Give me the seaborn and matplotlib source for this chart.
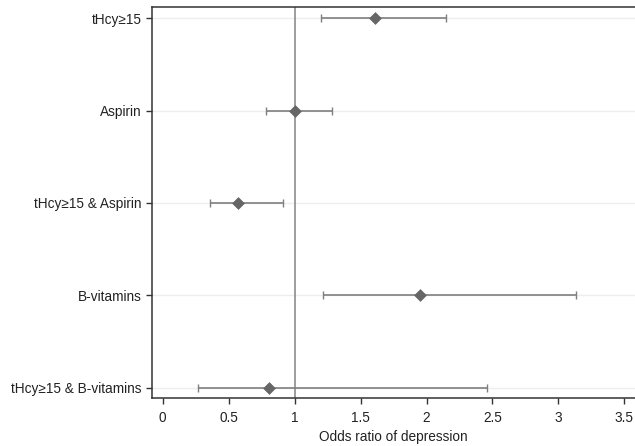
import numpy as np
import pandas as pd
import matplotlib
matplotlib.use("Agg")
import matplotlib.pyplot as plt
import seaborn as sns

# --- Data ---
labels = ["tHcy≥15", "Aspirin", "tHcy≥15 & Aspirin", "B-vitamins", "tHcy≥15 & B-vitamins"]
odds_ratio = [1.61, 1.00, 0.57, 1.95, 0.81]
ci_low = [1.20, 0.78, 0.36, 1.215, 0.265]
ci_high = [2.15, 1.285, 0.91, 3.135, 2.46]
x_ticks = [0, 0.5, 1, 1.5, 2, 2.5, 3, 3.5]
x_tick_labels = ["0", "0.5", "1", "1.5", "2", "2.5", "3", "3.5"]

df = pd.DataFrame({"label": labels, "or": odds_ratio, "lo": ci_low, "hi": ci_high})

sns.set_theme(style="white")
plt.rcParams["font.family"] = ["Liberation Sans", "DejaVu Sans"]

fig = plt.figure(figsize=(6.35, 4.46), dpi=100)
ax = fig.add_axes([0.2394, 0.1076, 0.7606, 0.8767])

# light horizontal grid at each category
for i in range(len(labels)):
    ax.axhline(i, color="#eeeeee", lw=1, zorder=0)

# reference line at OR = 1
ax.axvline(1, color="#8c8c8c", lw=1.2, zorder=1)

xerr = np.array([df["or"] - df["lo"], df["hi"] - df["or"]])
ax.errorbar(df["or"], np.arange(len(labels)), xerr=xerr, fmt="none",
            ecolor="#7f7f7f", elinewidth=1.2, capsize=3.0, capthick=1.0, zorder=2)
sns.scatterplot(data=df, x="or", y=np.arange(len(labels)), marker="D", s=36,
                color="#666666", edgecolor="#666666", linewidth=0.5, ax=ax, zorder=3)

ax.set_yticks(range(len(labels)))
ax.set_yticklabels(labels, fontsize=9.8, color="#222222")
ax.set_ylim(4.11, -0.12)
ax.set_xlim(-0.08, 3.58)
ax.set_xticks(x_ticks)
ax.set_xticklabels(x_tick_labels, fontsize=9.8, color="#222222")
ax.set_xlabel("Odds ratio of depression", fontsize=9.8, color="#222222")
ax.xaxis.set_label_coords(0.5, -0.083)
ax.set_ylabel("")

ax.tick_params(axis="both", which="both", direction="out", length=4.5, width=1,
               color="#333333", left=True, bottom=True)
ax.tick_params(axis="y", pad=3)
ax.tick_params(axis="x", pad=5)

for side in ["left", "top", "bottom"]:
    ax.spines[side].set_color("#333333")
    ax.spines[side].set_linewidth(1.1)
ax.spines["right"].set_visible(False)

fig.savefig("out.png", dpi=100)
